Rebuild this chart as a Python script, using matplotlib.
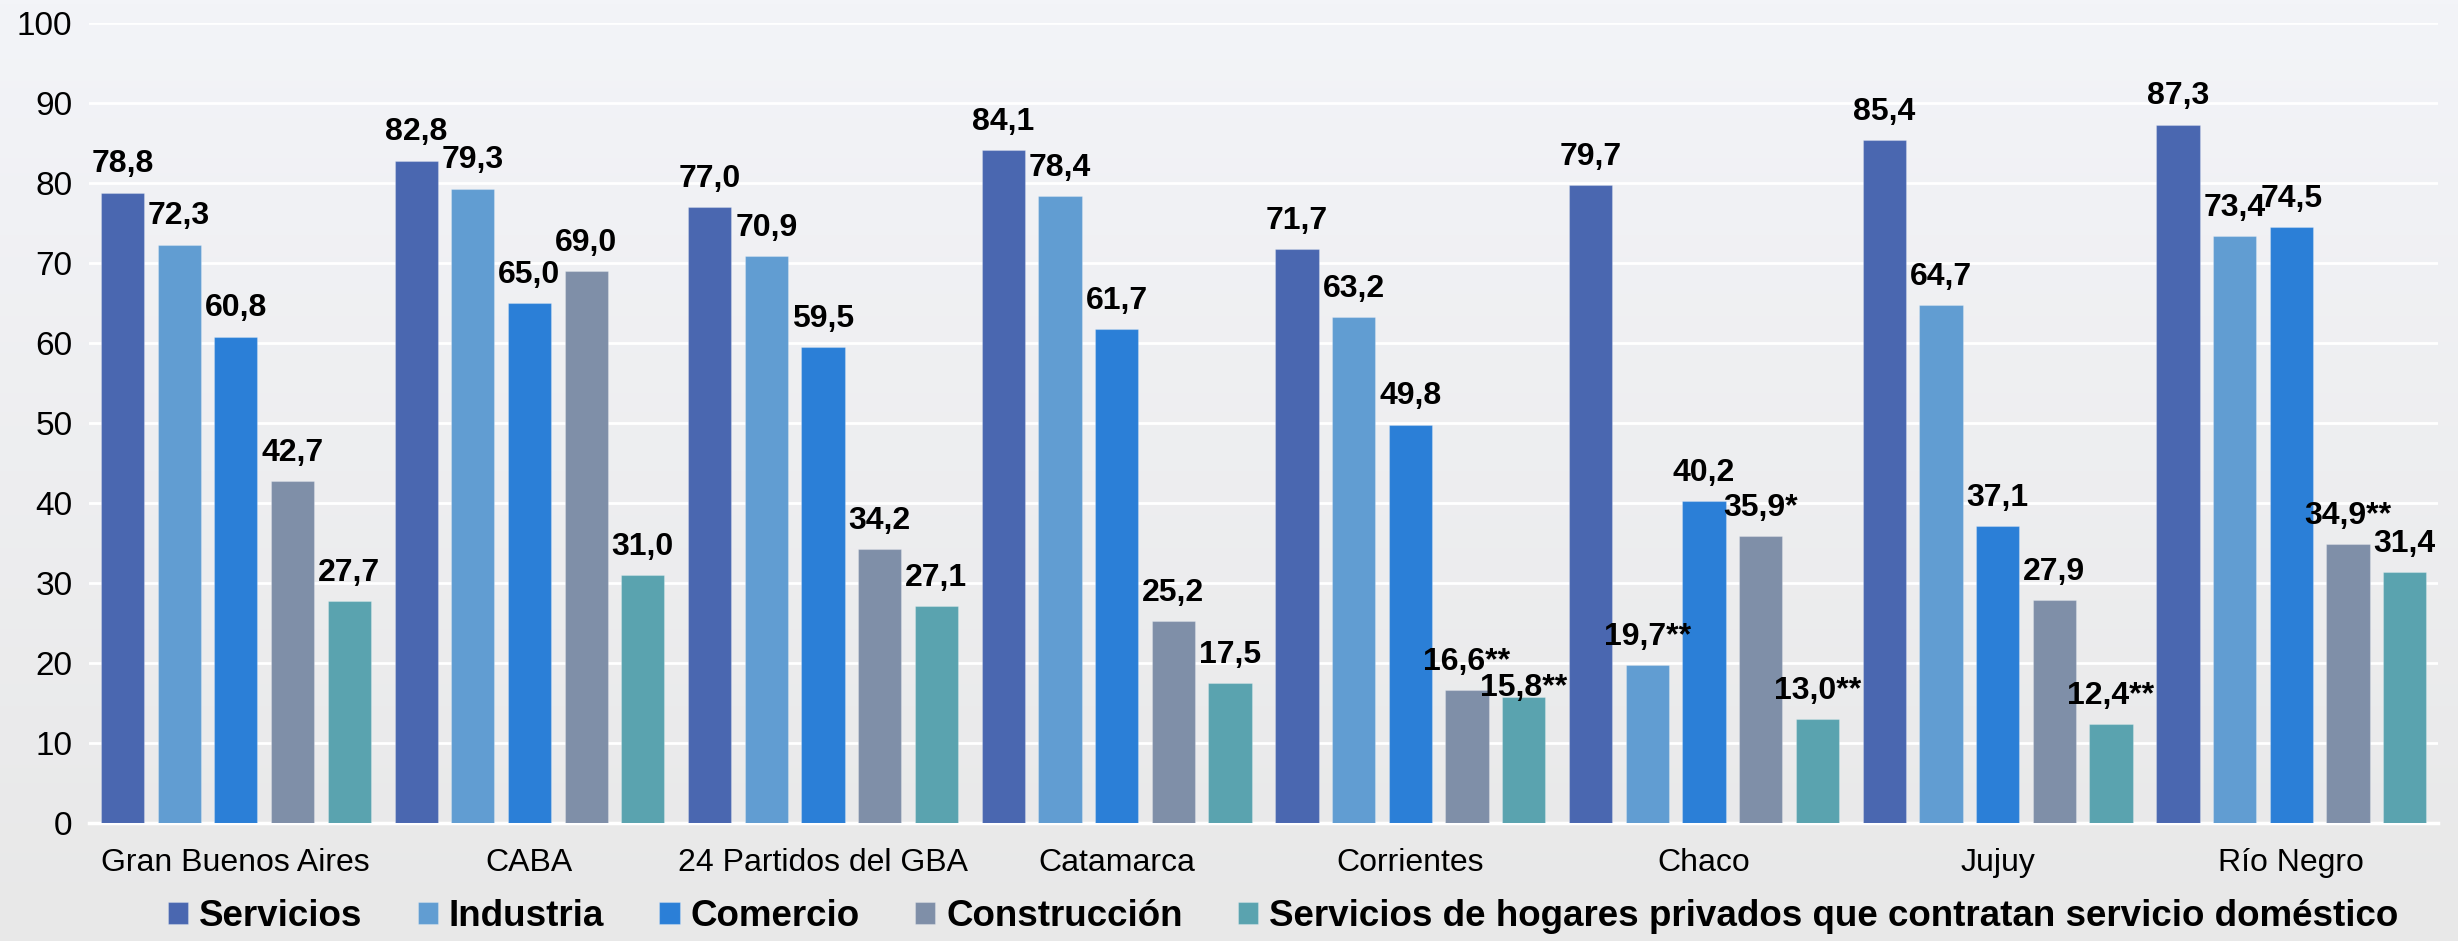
import numpy as np
import matplotlib
matplotlib.use("Agg")
import matplotlib.pyplot as plt
from matplotlib.colors import LinearSegmentedColormap

categories = ["Gran Buenos Aires", "CABA", "24 Partidos del GBA", "Catamarca",
              "Corrientes", "Chaco", "Jujuy", "Río Negro"]
series_names = ["Servicios", "Industria", "Comercio", "Construcción",
                "Servicios de hogares privados que contratan servicio doméstico"]
servicios = [78.8, 82.8, 77.0, 84.1, 71.7, 79.7, 85.4, 87.3]
industria = [72.3, 79.3, 70.9, 78.4, 63.2, 19.7, 64.7, 73.4]
comercio = [60.8, 65.0, 59.5, 61.7, 49.8, 40.2, 37.1, 74.5]
construccion = [42.7, 69.0, 34.2, 25.2, 16.6, 35.9, 27.9, 34.9]
hogares = [27.7, 31.0, 27.1, 17.5, 15.8, 13.0, 12.4, 31.4]
# significance marks appended to labels
marks_servicios = ["", "", "", "", "", "", "", ""]
marks_industria = ["", "", "", "", "", "**", "", ""]
marks_comercio = ["", "", "", "", "", "", "", ""]
marks_construccion = ["", "", "", "", "**", "*", "", "**"]
marks_hogares = ["", "", "", "", "**", "**", "**", ""]
yticks = [0, 10, 20, 30, 40, 50, 60, 70, 80, 90, 100]

colors = ["#4a67b0", "#619dd2", "#2b7fd7", "#7f8fa8", "#5aa3af"]
all_values = [servicios, industria, comercio, construccion, hogares]
all_marks = [marks_servicios, marks_industria, marks_comercio, marks_construccion, marks_hogares]

plt.rcParams['font.family'] = ['Liberation Sans', 'DejaVu Sans']

fig = plt.figure(figsize=(24.58, 9.41), dpi=100)

# background gradient
bg = fig.add_axes([0, 0, 1, 1], zorder=-10)
cmap = LinearSegmentedColormap.from_list("bg", ["#e8e8e8", "#f3f4f8"])
grad = np.linspace(0, 1, 256).reshape(-1, 1)
bg.imshow(grad, aspect="auto", cmap=cmap, origin="lower", extent=[0, 1, 0, 1])
bg.axis("off")

ax = fig.add_axes([0.0362, 0.1254, 0.9557, 0.8502])
ax.set_facecolor("none")

# label placement tweak (Corrientes, hogares label sits lower in the original)
label_shift = {(4, 4): -14}

x = np.arange(len(categories))
pitch = 0.193
width = 0.147
for k, (vals, marks, col) in enumerate(zip(all_values, all_marks, colors)):
    pos = x + (k - 2) * pitch
    ax.bar(pos, vals, width=width, color=col, label=series_names[k], zorder=3,
           edgecolor=(1, 1, 1, 0.25), linewidth=0.8)
    for i, (px, v, m) in enumerate(zip(pos, vals, marks)):
        txt = f"{v:.1f}".replace(".", ",") + m
        dy = 14.5 + label_shift.get((i, k), 0)
        ax.annotate(txt, (px, v), xytext=(0, dy), textcoords="offset points",
                    ha="center", va="baseline", fontsize=23, fontweight="bold",
                    color="black", zorder=5)

ax.set_xlim(-0.5, len(categories) - 0.5)
ax.set_ylim(0, 100)
ax.set_yticks(yticks)
ax.set_yticklabels([str(t) for t in yticks], fontsize=24)
ax.set_xticks(x)
ax.set_xticklabels(categories, fontsize=23)
ax.tick_params(axis="y", length=0, pad=12)
ax.tick_params(axis="x", length=0, pad=18)
ax.yaxis.grid(True, color="white", linewidth=2, zorder=0)
ax.set_axisbelow(True)
for s in ["top", "right", "left"]:
    ax.spines[s].set_visible(False)
ax.spines["bottom"].set_color("white")
ax.spines["bottom"].set_linewidth(2.5)

fig.legend(loc="center", bbox_to_anchor=(0.522, 0.026), ncol=5, frameon=False,
           prop={"size": 26.5, "weight": "bold"}, handlelength=0.55, handleheight=0.55,
           handletextpad=0.3, columnspacing=1.5)

fig.savefig("out.png", dpi=100)
